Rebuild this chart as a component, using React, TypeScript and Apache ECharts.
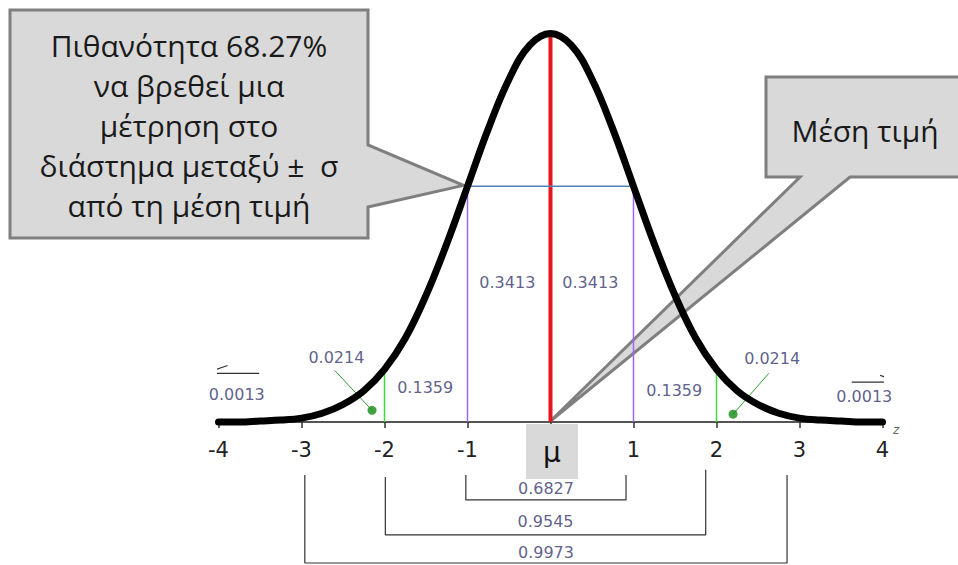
import React, { useEffect, useRef } from 'react';
import * as echarts from 'echarts';

// Standard normal density, sampled every quarter sigma
const zValues = [
  -4, -3.75, -3.5, -3.25, -3, -2.75, -2.5, -2.25, -2, -1.75, -1.5, -1.25, -1, -0.75, -0.5, -0.25,
  0, 0.25, 0.5, 0.75, 1, 1.25, 1.5, 1.75, 2, 2.25, 2.5, 2.75, 3, 3.25, 3.5, 3.75, 4,
];
const densityValues = [
  0.0, 0.0, 0.001, 0.002, 0.004, 0.009, 0.018, 0.032, 0.054, 0.086, 0.13, 0.183, 0.242, 0.301, 0.352, 0.387,
  0.399, 0.387, 0.352, 0.301, 0.242, 0.183, 0.13, 0.086, 0.054, 0.032, 0.018, 0.009, 0.004, 0.002, 0.001, 0.0, 0.0,
];

// Areas of the bands between consecutive sigma marks (left to right)
const bandAreas = ['0.0013', '0.0214', '0.1359', '0.3413', '0.3413', '0.1359', '0.0214', '0.0013'];

// Probabilities within ±1σ, ±2σ, ±3σ
const intervalSigmas = [1, 2, 3];
const intervalProbs = ['0.6827', '0.9545', '0.9973'];

// Where each band label sits, in (z, density) units
const bandLabelAt: [number, number][] = [
  [-3.78, 0.028], [-2.58, 0.066], [-1.51, 0.035], [-0.52, 0.143],
  [0.48, 0.143], [1.49, 0.032], [2.67, 0.065], [3.78, 0.026],
];

// Bracket geometry below the axis: [left z, right z, left top, right top, bottom, label y]
const bracketShape: [number, number, number, number, number, number][] = [
  [-1.02, 0.91, -0.0544, -0.0544, -0.08, -0.068],
  [-1.99, 1.87, -0.0565, -0.049, -0.116, -0.102],
  [-2.96, 2.85, -0.0544, -0.0544, -0.1448, -0.1345],
];

const Y_MAX = 0.42;

const LABEL_FONT = '"DejaVu Sans", sans-serif';
const LABEL_COLOR = '#35356e';

const densityAt = (z: number) => densityValues[zValues.indexOf(z)];

function segment(points: [number, number][], color: string, width: number, z = 3) {
  return {
    type: 'line',
    data: points,
    symbol: 'none',
    clip: false,
    silent: true,
    z,
    lineStyle: { color, width },
  };
}

export default function App() {
  const ref = useRef<HTMLDivElement>(null);

  useEffect(() => {
    const chart = echarts.init(ref.current!, null, { renderer: 'svg' });

    const series: any[] = [];

    // mean line
    series.push(segment([[0, 0], [0, densityAt(0)]], '#e8141b', 4, 3));
    // ±1σ and ±2σ verticals
    [-1, 1].forEach((s) => series.push(segment([[s, 0], [s, densityAt(s)]], '#a066f0', 1.5)));
    [-2, 2].forEach((s) => series.push(segment([[s, 0], [s, densityAt(s)]], '#3fdc3f', 1.5)));
    // width of the curve at ±1σ
    series.push(segment([[-1, densityAt(-1)], [1, densityAt(1)]], '#4f81bd', 1.5));

    // the bell curve
    series.push({
      type: 'line',
      data: zValues.map((z, i) => [z, densityValues[i]]),
      smooth: 0.4,
      symbol: 'none',
      silent: true,
      clip: false,
      z: 6,
      lineStyle: { color: '#000', width: 7, cap: 'round', join: 'round' },
    });

    // pointers for the 0.0214 tails
    series.push(segment([[-2.6, 0.053], [-2.15, 0.012]], '#2f9a2f', 1));
    series.push(segment([[2.63, 0.05], [2.2, 0.008]], '#2f9a2f', 1));
    series.push({
      type: 'scatter',
      data: [[-2.15, 0.012], [2.2, 0.008]],
      symbolSize: 9,
      clip: false,
      silent: true,
      z: 7,
      itemStyle: { color: '#138a13' },
    });

    // outer tail marks
    series.push(segment([[-3.89, 0.058], [-4.16, 0.05], [-3.51, 0.05]], '#333', 1.2));
    series.push(segment([[3.97, 0.048], [4.19, 0.041], [3.63, 0.041]], '#333', 1.2));

    // interval brackets
    bracketShape.forEach(([lo, hi, topL, topR, bottom]) => {
      series.push(segment([[lo, topL], [lo, bottom], [hi, bottom], [hi, topR]], '#333', 1.2));
    });

    // text labels
    const labelData: any[] = bandAreas.map((t, i) => ({ name: t, value: bandLabelAt[i] }));
    bracketShape.forEach((b, i) => {
      labelData.push({ name: intervalProbs[i], value: [(b[0] + b[1]) / 2, b[5]] });
    });
    series.push({
      type: 'scatter',
      data: labelData,
      symbolSize: 1,
      clip: false,
      silent: true,
      z: 8,
      itemStyle: { color: 'rgba(0,0,0,0)' },
      label: {
        show: true,
        position: 'inside',
        formatter: '{b}',
        fontFamily: LABEL_FONT,
        fontSize: 16,
        color: LABEL_COLOR,
      },
    });

    chart.setOption({
      animation: false,
      backgroundColor: '#fff',
      grid: { left: 218.5, right: 75.5, top: 13, bottom: 143, outerBoundsMode: 'none' },
      xAxis: {
        type: 'value',
        min: -4,
        max: 4,
        interval: 1,
        axisLine: { onZero: false, lineStyle: { color: '#555', width: 2 } },
        axisTick: { show: true, length: 6, lineStyle: { color: '#333', width: 1.5 } },
        axisLabel: {
          margin: 17,
          fontSize: 21,
          fontFamily: '"DejaVu Sans", sans-serif',
          color: '#222',
          // the mean is marked with μ instead of 0
          formatter: (v: number) => (v === 0 ? '' : String(v)),
        },
        splitLine: { show: false },
      },
      yAxis: {
        type: 'value',
        min: 0,
        max: Y_MAX,
        show: false,
        splitLine: { show: false },
      },
      series,
    });

    const tipL = chart.convertToPixel({ gridIndex: 0 }, [-1, densityAt(-1)]) as number[];
    const tipR = chart.convertToPixel({ gridIndex: 0 }, [0, 0]) as number[];

    const calloutStyle = { fill: '#d9d9d9', stroke: '#7f7f7f', lineWidth: 3, lineJoin: 'miter' };
    const calloutFont = { fontFamily: '"Open Sans", "Noto Sans", sans-serif', fontSize: 30, fill: '#1a1a1a' };

    chart.setOption({
      graphic: [
        {
          type: 'polygon',
          z: 1,
          shape: {
            points: [
              [10, 10], [368, 10], [368, 145], [tipL[0] - 4, tipL[1] - 1], [368, 207], [368, 238], [10, 238],
            ],
          },
          style: calloutStyle,
        },
        {
          type: 'text',
          z: 20,
          x: 189,
          y: 125,
          style: {
            ...calloutFont,
            text: 'Πιθανότητα 68.27%\nνα βρεθεί μια\nμέτρηση στο\nδιάστημα μεταξύ ±  σ\nαπό τη μέση τιμή',
            align: 'center',
            verticalAlign: 'middle',
            lineHeight: 40,
          },
        },
        {
          type: 'polygon',
          z: 1,
          shape: {
            points: [
              [766, 77], [962, 77], [962, 177], [850, 177], [tipR[0], tipR[1] - 1], [800, 177], [766, 177],
            ],
          },
          style: calloutStyle,
        },
        {
          type: 'text',
          z: 20,
          x: 865,
          y: 130,
          style: { ...calloutFont, text: 'Μέση τιμή', align: 'center', verticalAlign: 'middle' },
        },
        {
          type: 'rect',
          z: 20,
          shape: { x: 526, y: 424, width: 52, height: 55 },
          style: { fill: '#d9d9d9' },
        },
        {
          type: 'text',
          z: 21,
          x: 552,
          y: 452,
          style: {
            text: 'μ',
            fontFamily: '"DejaVu Sans", sans-serif',
            fontSize: 28,
            fill: '#111',
            align: 'center',
            verticalAlign: 'middle',
          },
        },
        {
          type: 'text',
          z: 21,
          x: 893,
          y: 430,
          style: {
            text: 'z',
            fontFamily: '"DejaVu Sans", sans-serif',
            fontSize: 12,
            fontStyle: 'italic',
            fill: '#666',
            align: 'left',
            verticalAlign: 'middle',
          },
        },
      ],
    });

    return () => chart.dispose();
  }, []);

  return (
    <div
      ref={ref}
      style={{ position: 'absolute', left: 0, top: 0, width: 958, height: 565, background: '#fff' }}
    />
  );
}
